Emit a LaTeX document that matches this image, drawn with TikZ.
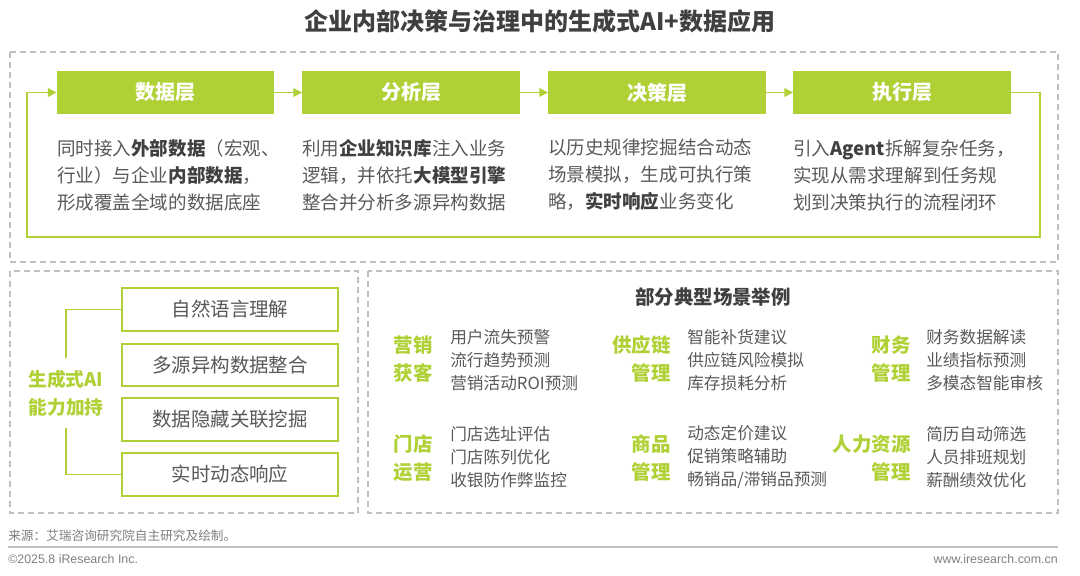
\documentclass[tikz,border=0pt]{standalone}
\usepackage{fontspec}
\setmainfont{Noto Sans CJK SC}
\newfontfamily\latinfoot{Liberation Sans}
\usetikzlibrary{arrows.meta}
\definecolor{ggreen}{HTML}{B0D136}
\definecolor{tgray}{HTML}{595959}
\definecolor{dgray}{HTML}{404040}
\definecolor{bgray}{HTML}{BFBFBF}
\definecolor{fgray}{HTML}{7F7F7F}
\newcommand\myfs[2]{\fontsize{#1}{#2}\selectfont}
\begin{document}
\begin{tikzpicture}[x=0.75pt,y=-0.75pt,
  panel/.style={draw=bgray, line width=0.9pt, dash pattern=on 4.5pt off 3pt},
  head/.style={fill=ggreen, text=white, font=\myfs{15}{18}\bfseries, minimum width=163pt, minimum height=32pt, inner sep=0},
  desc/.style={anchor=west, align=left, inner sep=0, text=tgray, font=\myfs{13.9}{20.25}},
  flow/.style={draw=ggreen, line width=1.1pt},
  flowarrow/.style={-{Triangle[length=6.5pt,width=6.5pt]}},
  abox/.style={draw=ggreen, line width=1.6pt, fill=white, minimum width=162pt, minimum height=32pt, inner sep=0, text=tgray, font=\myfs{14.6}{18}},
  cat/.style={anchor=east, align=right, inner sep=0, text=ggreen, font=\myfs{14.6}{21}\bfseries},
  item/.style={anchor=west, align=left, inner sep=0, text=tgray, font=\myfs{12.5}{17.5}}
]
\useasboundingbox (0,0) rectangle (1080,575);

% title
\node[text=dgray, font=\myfs{18}{22}\bfseries] (title) at (540,21) {企业内部决策与治理中的生成式AI+数据应用};

% panels
\draw[panel] (10,52) rectangle (1058,262);
\draw[panel] (10,271) rectangle (358,513);
\draw[panel] (368,271) rectangle (1058,513);

% header boxes
\node[head] (h1) at (165.5,92.5) {数据层};
\node[head] (h2) at (411,92.5) {分析层};
\node[head] (h3) at (657,92.5) {决策层};
\node[head] (h4) at (902,92.5) {执行层};

\draw[flow,flowarrow] (h1.east) -- (h2.west);
\draw[flow,flowarrow] (h2.east) -- (h3.west);
\draw[flow,flowarrow] (h3.east) -- (h4.west);
\coordinate (lr) at (1040,237);
\coordinate (ll) at (27,237);
\draw[flow,flowarrow] (h4.east) -| (lr) -- (ll) |- (h1.west);

% descriptions
\node[desc] (d1) at (57,175) {同时接入\textbf{\color{dgray}外部数据}（宏观、\\行业）与企业\textbf{\color{dgray}内部数据}，\\形成覆盖全域的数据底座};
\node[desc] (d2) at (302,175) {利用\textbf{\color{dgray}企业知识库}注入业务\\逻辑，并依托\textbf{\color{dgray}大模型引擎}\\整合并分析多源异构数据};
\node[desc] (d3) at (548,175) {以历史规律挖掘结合动态\\场景模拟，生成可执行策\\略，\textbf{\color{dgray}实时响应}业务变化};
\node[desc] (d4) at (793,175) {引入\textbf{\color{dgray}Agent}拆解复杂任务，\\实现从需求理解到任务规\\划到决策执行的流程闭环};

% left panel
\node[abox] (a1) at (230,309.5) {自然语言理解};
\node[abox] (a2) at (230,365) {多源异构数据整合};
\node[abox] (a3) at (230,419.5) {数据隐藏关联挖掘};
\node[abox] (a4) at (230,474.5) {实时动态响应};
\node[align=center, inner xsep=0, inner ysep=8.6pt, text=ggreen, font=\myfs{14}{21}\bfseries] (ai) at (66,393) {生成式AI\\能力加持};
\draw[flow] (a1.west) -| (ai.north);
\draw[flow] (a4.west) -| (ai.south);

% right panel
\node[text=dgray, font=\myfs{14.6}{18}\bfseries, inner sep=0] (st) at (713,297) {部分典型场景举例};

\node[cat] (c1) at (433,359) {营销\\获客};
\node[cat] (c2) at (671,359) {供应链\\管理};
\node[cat] (c3) at (911,359) {财务\\管理};
\node[cat] (c4) at (433,458) {门店\\运营};
\node[cat] (c5) at (671,458) {商品\\管理};
\node[cat] (c6) at (911,458) {人力资源\\管理};

\node[item] (i1) at (450,360) {用户流失预警\\流行趋势预测\\营销活动ROI预测};
\node[item] (i2) at (687,360) {智能补货建议\\供应链风险模拟\\库存损耗分析};
\node[item] (i3) at (926,360) {财务数据解读\\业绩指标预测\\多模态智能审核};
\node[item] (i4) at (450,457) {门店选址评估\\门店陈列优化\\收银防作弊监控};
\node[item] (i5) at (687,457) {动态定价建议\\促销策略辅助\\畅销品/滞销品预测};
\node[item] (i6) at (926,457) {简历自动筛选\\人员排班规划\\薪酬绩效优化};

% footer
\node[anchor=west, inner sep=0, text=fgray, font=\myfs{9.5}{12}] (src) at (8,536) {来源：艾瑞咨询研究院自主研究及绘制。};
\coordinate (fl) at (8,547);
\coordinate (fr) at (1058,547);
\draw[draw=bgray, line width=0.8pt] (fl) -- (fr);
\node[anchor=west, inner sep=0, text=fgray, font=\latinfoot\myfs{9.3}{12}] (copy) at (8,559) {©2025.8 iResearch Inc.};
\node[anchor=east, inner sep=0, text=fgray, font=\latinfoot\myfs{9.3}{12}] (web) at (1058,559) {www.iresearch.com.cn};
\end{tikzpicture}
\end{document}
